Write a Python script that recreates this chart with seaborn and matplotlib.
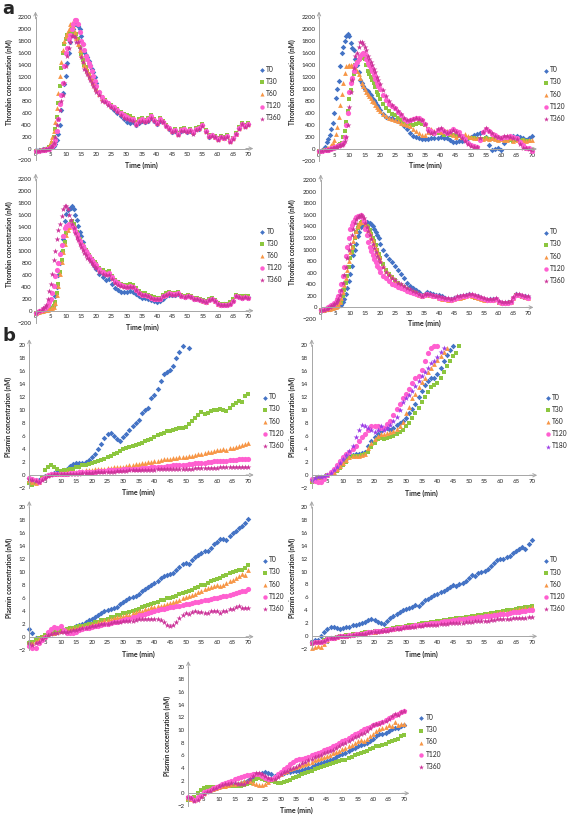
import numpy as np
import matplotlib
matplotlib.use("Agg")
import matplotlib.pyplot as plt
import seaborn as sns

sns.set_theme(style="white")
plt.rcParams["font.family"] = ["Lato", "DejaVu Sans"]

nan = np.nan

# ---------------- sample times ----------------
# thrombin: 0,1,2 then every 0.5 min up to 20, then every minute to 70
TH_TIME = [0, 1, 2] + [2.5 + 0.5 * i for i in range(36)] + list(range(21, 71))

# ---------------- thrombin (nM) ----------------
A1_T0 = [-30,-25,-20,-15,-10,-5,0,10,20,30,50,80,150,250,400,650,930,1080,1220,1440,1600,1780,1900,2000,2080,2120,2050,2000,1880,1750,1620,1570,1530,1470,1400,1330,1280,1200,1100,
         950,850,790,740,700,650,600,540,490,440, 430,450,400,430,470,440,470,520,470,420, 460,440,370,330,280,300,240,300,310,280, 300,260,320,330,390,290,200,220,200,160, 200,170,210,120,170,250,340,420,370,420]
A1_T30 = [-40,-35,-30,-25,-20,-10,0,20,50,100,200,320,530,760,1050,1350,1600,1750,1830,1900,1920,1960,2000,1950,1900,1920,1830,1700,1580,1480,1400,1370,1300,1250,1200,1150,1100,1050,1000,
          930,860,810,770,730,700,660,610,580,560, 540,520,450,500,510,480,510,560,500,440, 520,470,400,350,300,320,260,330,340,300, 320,280,340,360,410,310,220,230,210,170, 210,190,220,130,180,260,360,430,390,430]
A1_T60 = [-30,-25,-20,-15,-10,0,20,50,120,200,300,450,680,930,1220,1450,1650,1800,1880,1930,2000,2080,2100,2050,1950,1850,1750,1650,1560,1470,1400,1350,1300,1250,1200,1150,1100,1050,1000,
          920,850,800,760,720,690,650,600,570,550, 530,510,440,490,500,470,500,550,490,430, 510,460,390,340,290,310,250,320,330,290, 310,270,330,350,400,300,210,220,200,160, 200,180,210,120,170,250,350,420,380,420]
A1_T120 = [-40,-35,-30,-25,-20,-15,-10,0,20,40,80,150,300,500,750,900,1100,1380,1600,1680,1830,1900,2000,2080,2150,2150,2080,1950,1800,1750,1650,1550,1500,1430,1380,1300,1220,1130,1050,
           950,860,800,760,720,690,650,600,560,530, 500,490,420,470,490,460,490,540,480,430, 490,450,380,340,290,310,250,310,320,290, 310,270,330,340,400,300,210,220,200,160, 200,180,210,120,170,250,340,420,380,420]
A1_T360 = [-40,-35,-30,-25,-20,-15,-10,0,20,50,100,200,400,500,650,800,900,1100,1380,1550,1680,1780,1880,1880,1870,1780,1780,1680,1530,1450,1330,1300,1250,1200,1150,1100,1050,1000,950,
           900,800,780,730,700,660,620,560,520,500, 480,470,390,440,470,440,470,520,470,420, 460,440,370,330,270,290,230,290,300,270, 290,250,310,320,380,280,190,210,190,150, 190,170,200,110,160,240,330,410,360,400]

A2_T0 = [-40,-20,30,110,170,234,330,430,610,860,1000,1140,1380,1600,1700,1800,1880,1920,1890,1770,1680,1650,1500,1400,1280,1150,1100,1050,1010,990,970,940,910,860,820,780,740,700,650,
         590,540,520,510,490,470,430,390,330,260, 220,200,180,170,170,170,180,180,190,200, 190,180,150,110,120,130,130,150,180,200, 240,250,260,280,200,60,-20,0,20,-10, 100,180,200,220,220,200,180,150,180,210]
A2_T30 = [-40,-30,-20,-15,-10,-5,0,10,20,30,40,60,80,100,200,300,450,630,830,980,1130,1250,1400,1450,1480,1500,1520,1540,1500,1400,1300,1250,1200,1150,1100,1030,960,900,840,
          760,690,640,590,560,520,480,450,420,410, 400,410,430,420,400,330,270,250,260,260, 240,250,240,230,220,210,190,200,190,180, 180,170,170,160,180,160,170,160,150,160, 170,170,150,140,150,130,150,140,130,-10]
A2_T60 = [-40,-20,0,10,20,40,60,100,150,250,370,540,730,920,1100,1270,1380,1390,1400,1400,1390,1380,1350,1300,1250,1180,1100,1050,1000,960,920,880,850,810,780,740,700,670,640,
          590,550,520,500,480,460,440,420,400,380, 340,300,260,230,240,280,330,300,310,280, 320,300,270,230,200,230,200,250,220,200, 190,180,180,170,180,170,190,170,150,160, 150,150,180,140,150,140,150,140,150,150]
A2_T120 = [-40,-30,-20,-15,-10,0,10,20,30,40,50,60,70,80,100,200,400,600,950,1100,1180,1300,1400,1450,1500,1560,1580,1600,1580,1500,1430,1400,1350,1300,1230,1170,1100,1050,1000,
           900,820,760,720,680,620,560,500,470,480, 500,520,510,480,420,340,300,270,320,340, 300,260,300,330,300,280,220,170,100,60, 50,40,150,280,330,300,250,230,200,190, 200,200,220,200,180,120,60,20,10,-30]
A2_T360 = [-40,-30,-20,-15,-10,-5,0,10,20,30,40,50,60,70,80,130,200,400,700,950,1150,1350,1550,1600,1700,1780,1780,1760,1700,1650,1550,1500,1450,1400,1340,1280,1200,1150,1080,
           980,880,800,740,690,640,580,520,480,480, 500,510,500,480,420,300,270,280,330,350, 300,260,290,310,280,240,180,130,80,50, 30,40,180,290,350,300,270,220,200,190, 210,210,200,180,160,80,20,10,0,-20]

A3_T0 = [-30,-20,-10,0,10,20,30,40,50,70,100,250,400,600,800,1000,1200,1500,1620,1680,1700,1720,1750,1700,1600,1520,1420,1320,1250,1150,1050,1000,950,900,860,820,780,740,700,
         620,560,520,530,450,380,340,320,310,320, 330,310,280,240,220,210,200,180,160,150, 160,200,240,270,260,270,280,240,230,250, 230,200,190,180,160,140,190,190,160,120, 100,110,110,120,170,250,230,220,240,230]
A3_T30 = [-30,-20,-10,0,10,15,20,25,30,50,80,150,300,450,650,850,1000,1150,1300,1380,1420,1480,1500,1450,1380,1320,1260,1200,1150,1100,1060,1020,980,940,900,870,840,810,780,
          720,680,650,660,580,520,480,450,430,430, 440,430,380,330,300,290,270,250,230,210, 220,260,290,310,300,300,310,270,250,270, 250,220,210,200,180,160,200,210,180,130, 110,120,120,140,190,260,250,240,250,240]
A3_T60 = [-30,-20,-10,0,10,15,20,25,30,40,70,130,270,420,620,820,980,1120,1270,1350,1400,1440,1450,1420,1360,1300,1240,1180,1130,1080,1040,1000,960,920,880,850,820,790,760,
          700,660,630,640,560,500,460,430,410,410, 420,410,360,310,280,270,250,230,210,200, 210,250,280,300,290,290,300,260,240,260, 240,210,200,190,170,150,190,200,170,120, 100,110,110,130,180,250,240,230,240,230]
A3_T120 = [-30,-10,10,30,50,70,100,150,200,300,420,580,680,800,950,1100,1250,1380,1420,1430,1450,1440,1420,1380,1330,1280,1220,1170,1120,1080,1040,1000,960,920,880,850,820,790,760,
           700,650,620,630,560,500,460,430,410,400, 410,400,350,300,270,260,240,220,200,190, 200,240,270,290,280,280,290,250,230,250, 230,200,190,180,160,140,180,190,160,110, 90,100,100,120,170,240,230,220,230,220]
A3_T360 = [-30,0,20,40,60,100,200,330,450,620,850,1000,1200,1350,1450,1580,1700,1750,1760,1700,1600,1520,1450,1380,1300,1240,1180,1120,1060,1010,970,930,890,860,830,800,770,740,710,
           650,610,590,600,530,470,430,410,390,400, 400,390,340,300,270,260,240,220,200,190, 200,240,270,280,270,270,280,250,230,250, 230,200,190,180,160,140,180,190,160,110, 90,100,100,120,170,240,230,220,230,220]

A4_T0 = [-50,-40,-30,-25,-20,-15,-10,0,10,20,30,40,50,100,150,230,330,450,580,720,900,1000,1100,1230,1300,1380,1430,1450,1460,1470,1460,1450,1440,1400,1350,1300,1250,1200,1100,
         1000,900,830,780,720,650,580,500,420,370, 330,300,260,220,240,260,250,240,220,210, 190,160,150,140,160,180,190,200,210,230, 220,200,190,170,150,130,140,140,150,100, 80,80,90,100,170,230,220,200,190,180]
A4_T30 = [-50,-40,-30,-25,-20,-15,-10,0,10,20,50,70,100,200,300,420,550,700,850,950,1050,1200,1300,1370,1420,1450,1480,1500,1450,1400,1380,1330,1270,1200,1150,1080,1000,930,860,
          750,650,580,530,480,430,390,350,320,290, 270,250,220,190,210,220,200,190,180,160, 140,130,120,110,130,150,160,170,180,200, 190,170,160,140,120,110,120,120,130,80, 70,70,80,90,150,210,200,180,170,160]
A4_T60 = [-50,-40,-30,-25,-20,-15,-10,0,10,30,60,100,170,260,380,500,640,800,950,1050,1150,1230,1320,1400,1450,1480,1500,1480,1430,1380,1340,1280,1220,1160,1100,1030,960,890,820,
          720,630,570,520,470,420,380,340,310,290, 270,250,220,200,220,230,210,200,190,170, 150,140,130,120,140,160,170,180,190,210, 200,180,170,150,130,120,130,130,140,90, 80,80,90,100,160,220,210,190,180,170]
A4_T120 = [-50,-30,-10,0,20,35,50,75,100,150,200,280,400,550,700,880,1050,1200,1350,1420,1480,1520,1560,1570,1580,1590,1560,1500,1350,1250,1130,1050,980,900,840,780,720,680,620,
           550,500,450,410,380,350,330,310,290,270, 250,230,210,190,220,230,210,200,190,170, 160,150,140,130,150,170,180,190,200,220, 210,190,180,160,140,120,130,130,140,90, 70,70,80,90,160,220,210,190,180,170]
A4_T360 = [-50,-40,-20,-10,0,20,40,60,80,110,150,220,300,420,560,700,850,1000,1100,1250,1350,1450,1520,1560,1580,1600,1580,1550,1450,1380,1320,1250,1180,1100,1030,960,890,830,780,
           700,620,560,510,470,430,400,370,340,310, 290,260,230,200,230,240,230,210,200,190, 180,170,160,150,170,190,200,210,220,240, 230,210,200,180,160,140,150,150,160,110, 90,90,100,110,180,240,230,210,200,190]

# ---------------- plasmin (nM), one value per minute from t = 0 ----------------
B1_T0 = [-0.5,-0.8,-1.0,-0.8,-0.5,-0.2,0.0,0.2,0.3,0.4, 0.5,0.8,1.0,1.4,1.7,1.8,1.9,1.9,2.0,2.3,
         2.7,3.2,4.0,4.8,5.7,6.3,6.4,6.0,5.5,5.3, 5.8,6.3,6.9,7.6,8.0,8.5,9.6,10.0,10.3,11.8,
         12.3,13.2,14.5,15.5,15.8,16.2,16.8,18.0,19.0,19.8, nan,19.5]
B1_T30 = [-1.3,-1.5,-1.2,-1.0,-0.3,0.8,1.2,1.5,1.3,0.9, 0.6,0.7,0.8,0.9,1.0,1.2,1.3,1.5,1.6,1.7,
          1.9,2.0,2.2,2.3,2.5,2.7,2.9,3.2,3.4,3.7, 4.0,4.2,4.3,4.5,4.6,4.8,5.0,5.2,5.4,5.6,
          5.9,6.1,6.3,6.5,6.7,6.8,7.0,7.1,7.2,7.3, 7.4,7.8,8.3,8.8,9.3,9.7,9.4,9.5,9.8,10.0,
          10.0,10.1,10.0,9.8,10.3,10.8,11.1,11.4,11.3,12.2,12.5]
B1_T60 = [-0.8,-1.0,-1.2,-1.0,-0.5,-0.2,0.0,0.1,0.2,0.2, 0.3,0.3,0.4,0.4,0.5,0.5,0.6,0.6,0.7,0.8,
          0.8,0.9,0.9,1.0,1.0,1.1,1.1,1.2,1.2,1.3, 1.3,1.4,1.5,1.6,1.7,1.7,1.8,1.9,2.0,2.0,
          2.1,2.2,2.3,2.4,2.4,2.5,2.6,2.6,2.7,2.7, 2.8,2.9,3.0,3.1,3.2,3.3,3.4,3.5,3.6,3.7,
          3.8,3.9,4.0,3.9,4.1,4.2,4.3,4.4,4.6,4.8,4.9]
B1_T120 = [-0.5,-0.6,-0.8,-1.0,-0.6,-0.3,0.0,0.1,0.2,0.2, 0.2,0.2,0.2,0.3,0.3,0.3,0.4,0.4,0.4,0.5,
           0.5,0.5,0.6,0.6,0.6,0.7,0.7,0.7,0.8,0.8, 0.9,0.9,0.9,1.0,1.0,1.0,1.1,1.1,1.1,1.2,
           1.2,1.3,1.3,1.3,1.4,1.4,1.5,1.5,1.5,1.6, 1.6,1.7,1.7,1.8,1.8,1.9,1.9,2.0,2.0,2.1,
           2.1,2.1,2.2,2.2,2.3,2.3,2.3,2.4,2.4,2.5,2.5]
B1_T360 = [-0.6,-0.7,-0.9,-1.0,-0.7,-0.4,-0.1,0.0,0.1,0.1, 0.1,0.1,0.1,0.2,0.2,0.2,0.2,0.3,0.3,0.3,
           0.3,0.4,0.4,0.4,0.5,0.5,0.5,0.5,0.6,0.6, 0.6,0.6,0.7,0.7,0.7,0.7,0.8,0.8,0.8,0.8,
           0.8,0.9,0.9,0.9,0.9,0.9,1.0,1.0,1.0,1.0, 1.0,1.0,1.0,1.1,1.1,1.1,1.1,1.1,1.1,1.1,
           1.1,1.2,1.2,1.2,1.2,1.2,1.2,1.3,1.3,1.2,1.2]

B2_T0 = [-0.8,-0.5,-0.2,-0.3,-0.2,0.0,0.3,0.6,1.0,1.5, 2.0,2.5,2.9,3.1,3.2,3.3,3.4,3.6,4.5,5.3,
         5.8,6.3,6.8,7.2,7.2,7.0,7.3,7.7,8.0,8.3, 8.8,9.5,10.2,11.0,12.0,13.0,13.8,14.5,15.0,15.0,
         15.5,16.5,17.5,18.5,19.3,19.8]
B2_T30 = [-1.0,-0.6,-0.4,-0.3,-0.2,0.0,0.2,0.4,0.7,1.1, 1.6,2.1,2.6,2.9,3.0,3.0,3.1,3.2,3.6,4.3,
          5.0,5.6,5.7,5.6,5.7,5.8,6.0,6.3,6.6,7.0, 7.5,8.0,8.8,9.5,10.3,11.2,12.0,12.8,13.5,13.9,
          14.1,15.0,15.8,16.8,17.6,18.3,18.7,19.8]
B2_T60 = [-0.8,-0.5,-0.3,-0.3,-0.2,0.0,0.3,0.5,0.9,1.4, 1.9,2.4,2.8,3.0,3.0,3.0,3.1,3.3,4.2,4.9,
          5.6,6.1,6.3,6.4,6.5,6.6,6.8,7.1,7.5,8.2, 9.5,10.5,11.8,12.5,13.5,14.3,15.0,15.8,16.5,17.1,
          17.7,18.3,18.9,19.6]
B2_T120 = [-0.6,-0.9,-1.1,-1.0,-0.5,0.0,0.5,1.0,1.6,2.2, 2.8,3.2,3.6,4.0,4.5,5.2,5.8,6.3,7.0,7.5,
           7.6,7.6,7.2,7.2,7.8,8.4,9.3,10.2,11.0,11.8, 12.5,13.3,14.2,15.0,15.2,16.2,17.5,18.8,19.6,19.8,
           19.8]
B2_T180 = [-0.8,-0.4,-0.2,-0.3,-0.1,0.1,0.4,0.8,1.3,1.9, 2.5,3.1,3.7,4.5,5.8,7.0,7.7,7.5,7.3,7.0,
           6.6,7.0,7.5,6.9,7.2,7.7,8.3,9.0,10.0,11.2, 11.8,12.3,13.0,13.7,14.5,15.2,15.8,16.5,17.2,17.5,
           18.2,19.0,19.6]

B3_T0 = [1.2,0.6,-0.2,-0.3,-0.2,0.0,0.3,0.5,0.6,0.8, 1.0,1.1,1.2,1.3,1.4,1.6,1.8,2.0,2.3,2.5,
         2.7,3.0,3.3,3.6,3.9,4.1,4.3,4.4,4.6,5.0, 5.4,5.7,5.9,6.1,6.2,6.5,7.0,7.3,7.6,7.9,
         8.2,8.6,9.0,9.3,9.5,9.6,9.8,10.3,10.8,11.2, 11.4,11.2,11.8,12.3,12.6,12.9,13.2,13.2,13.6,14.2,
         14.6,15.0,15.0,14.9,15.5,15.9,16.3,16.8,17.0,17.5,18.1]
B3_T30 = [-1.0,-0.8,-0.5,-0.2,0.0,0.2,0.4,0.6,0.8,0.9, 1.0,1.1,1.2,1.3,1.4,1.5,1.6,1.7,1.8,1.9,
          2.0,2.2,2.3,2.5,2.6,2.8,3.0,3.1,3.3,3.4, 3.6,3.7,3.8,3.9,4.1,4.3,4.5,4.7,4.9,5.0,
          5.2,5.4,5.6,5.7,5.9,6.0,6.1,6.3,6.5,6.7, 6.9,7.0,7.2,7.5,7.7,7.9,8.0,8.2,8.5,8.7,
          8.9,9.1,9.3,9.5,9.8,10.0,10.1,10.3,10.3,10.5,11.0]
B3_T60 = [-1.2,-1.0,-0.7,-0.4,-0.1,0.1,0.3,0.5,0.6,0.8, 0.9,1.0,1.1,1.2,1.3,1.4,1.5,1.6,1.7,1.8,
          1.9,2.0,2.2,2.3,2.5,2.6,2.8,2.9,3.0,3.1, 3.2,3.3,3.4,3.6,3.8,3.9,4.0,4.2,4.3,4.5,
          4.6,4.7,4.8,4.9,5.0,5.2,5.4,5.5,5.7,5.9, 6.1,6.2,6.4,6.6,6.9,7.1,7.3,7.5,7.6,7.8,
          7.9,7.8,8.0,8.3,8.6,8.8,9.1,9.4,9.6,9.5,10.2]
B3_T120 = [-1.5,-1.8,-1.7,-1.0,-0.5,0.0,0.7,1.2,1.5,1.3, 1.7,1.0,0.6,0.5,0.6,0.8,1.0,1.2,1.3,1.4,
           1.5,1.6,1.7,1.8,1.9,2.0,2.1,2.2,2.3,2.4, 2.5,2.7,2.8,3.0,3.1,3.3,3.4,3.5,3.7,3.8,
           4.0,4.1,4.2,4.3,4.4,4.5,4.6,4.7,4.8,4.9, 5.0,5.1,5.2,5.3,5.4,5.5,5.6,5.7,5.8,5.9,
           6.0,6.1,6.2,6.3,6.4,6.5,6.7,6.9,7.0,7.1,7.3]
B3_T360 = [-1.0,-1.2,-1.0,-0.8,-0.3,0.0,0.2,0.4,0.5,0.6, 0.7,0.8,0.8,0.9,1.0,1.1,1.2,1.3,1.4,1.5,
           1.6,1.7,1.8,1.9,2.0,2.0,2.1,2.2,2.3,2.3, 2.4,2.4,2.4,2.4,2.5,2.7,2.8,2.7,2.7,2.8,
           2.8,2.7,2.6,2.2,1.8,1.7,1.8,2.2,2.9,3.3, 3.6,3.5,3.8,3.9,3.8,3.8,3.7,3.6,3.9,3.9,
           4.0,3.6,3.9,4.0,4.2,4.3,4.6,4.8,4.4,4.4,4.4]

B4_T0 = [-0.8,-0.6,-0.5,0.0,0.7,1.2,1.5,1.5,1.3,1.2, 1.3,1.4,1.5,1.7,1.8,1.9,2.0,2.2,2.5,2.6,
         2.5,2.2,2.0,1.9,2.3,2.8,3.2,3.5,3.8,4.0, 4.2,4.3,4.6,4.8,4.7,5.2,5.6,5.8,6.1,6.4,
         6.5,6.8,7.0,7.3,7.6,7.9,7.7,8.1,8.3,8.6, 9.0,9.5,9.3,9.8,10.0,10.1,10.4,10.8,11.3,11.8,
         11.9,12.0,12.2,12.4,12.8,13.2,13.4,13.8,13.5,14.3,14.9]
B4_T30 = [-1.2,-1.0,-0.9,-0.8,-0.6,-0.4,-0.3,-0.2,-0.1,0.0, 0.1,0.2,0.2,0.3,0.4,0.4,0.5,0.6,0.6,0.7,
          0.8,0.9,0.9,1.0,1.1,1.2,1.3,1.4,1.5,1.5, 1.6,1.7,1.7,1.8,1.9,2.0,2.0,2.1,2.2,2.2,
          2.3,2.4,2.5,2.5,2.6,2.7,2.8,2.8,2.9,3.0, 3.0,3.1,3.2,3.3,3.3,3.4,3.5,3.6,3.6,3.7,
          3.8,3.9,4.0,4.0,4.1,4.2,4.3,4.4,4.5,4.6,4.7]
B4_T60 = [-1.8,-1.6,-1.5,-1.7,-1.2,-0.5,-0.3,-0.2,-0.1,0.0, 0.1,0.1,0.2,0.3,0.3,0.4,0.5,0.5,0.6,0.7,
          0.7,0.8,0.9,1.0,1.0,1.1,1.2,1.3,1.4,1.4, 1.5,1.6,1.6,1.7,1.8,1.9,1.9,2.0,2.1,2.1,
          2.2,2.3,2.4,2.4,2.5,2.6,2.7,2.7,2.8,2.9, 2.9,3.0,3.1,3.2,3.2,3.3,3.4,3.5,3.5,3.6,
          3.7,3.8,3.8,3.9,4.0,4.1,4.2,4.2,4.3,4.4,4.5]
B4_T120 = [-1.0,-0.9,-0.8,-0.9,-0.7,-0.4,-0.3,-0.2,-0.1,0.0, 0.1,0.1,0.2,0.2,0.3,0.4,0.4,0.5,0.6,0.7,
           0.8,0.8,0.9,1.0,1.0,1.1,1.2,1.3,1.3,1.4, 1.5,1.5,1.6,1.7,1.7,1.8,1.9,1.9,2.0,2.1,
           2.1,2.2,2.3,2.3,2.4,2.5,2.5,2.6,2.7,2.7, 2.8,2.8,2.9,3.0,3.0,3.1,3.1,3.2,3.3,3.3,
           3.4,3.5,3.5,3.6,3.7,3.7,3.8,3.9,3.9,4.0,4.1]
B4_T360 = [-1.0,-0.9,-0.8,-0.9,-0.7,-0.4,-0.3,-0.2,-0.1,0.0, 0.0,0.1,0.1,0.2,0.2,0.3,0.4,0.4,0.5,0.6,
           0.7,0.7,0.8,0.9,0.9,1.0,1.1,1.1,1.2,1.3, 1.4,1.4,1.5,1.5,1.6,1.6,1.7,1.7,1.7,1.8,
           1.8,1.9,1.9,1.9,2.0,2.0,2.0,2.1,2.1,2.2, 2.2,2.2,2.3,2.3,2.4,2.4,2.4,2.5,2.5,2.6,
           2.6,2.6,2.7,2.7,2.8,2.8,2.8,2.9,2.9,3.0,3.0]

B5_T0 = [-0.8,-0.8,-1.0,-0.8,-0.3,0.0,0.3,0.5,0.7,0.9, 1.1,1.2,1.3,1.4,1.5,1.5,1.5,1.6,1.8,2.0,
         2.3,2.6,2.9,3.1,3.2,3.3,3.2,3.0,2.8,2.9, 3.0,3.2,3.3,3.4,3.5,3.6,3.6,3.7,3.8,4.0,
         4.2,4.4,4.6,4.8,5.0,5.1,5.3,5.5,5.7,6.0, 6.2,6.4,6.7,7.0,7.2,7.4,7.6,7.8,8.0,8.3,
         8.6,9.0,9.3,9.4,9.6,9.9,10.1,10.3,10.3,10.6,10.8]
B5_T30 = [-1.0,-0.8,-0.5,0.0,0.5,0.8,1.0,1.0,1.0,0.9, 0.9,1.0,1.0,1.1,1.1,1.1,1.1,1.2,1.3,1.5,
          1.6,1.9,2.2,2.4,2.3,2.1,2.0,1.9,1.8,1.7, 1.7,1.8,1.9,2.1,2.4,2.6,2.8,3.0,3.2,3.4,
          3.6,3.8,4.0,4.2,4.3,4.5,4.6,4.8,5.0,5.1, 5.3,5.2,5.6,5.8,6.0,6.2,6.4,6.5,6.7,7.0,
          7.2,7.4,7.5,7.7,7.8,8.1,8.2,8.4,8.6,9.0,9.2]
B5_T60 = [-0.8,-0.9,-1.0,-0.7,-0.3,0.0,0.3,0.5,0.7,0.9, 1.0,1.1,1.2,1.3,1.4,1.5,1.6,1.8,2.0,2.0,
          1.9,1.6,1.4,1.3,1.3,1.4,1.8,2.2,2.6,2.9, 3.1,3.3,3.5,3.8,4.0,4.1,4.3,4.5,4.7,4.8,
          5.0,5.2,5.4,5.6,5.8,5.9,6.1,6.3,6.5,6.7, 7.0,7.2,7.4,7.7,8.0,8.3,8.5,8.3,8.6,9.0,
          9.4,9.8,10.2,10.3,10.5,10.8,10.6,11.2,10.8,11.0,10.9]
B5_T120 = [-0.6,-0.8,-1.0,-0.6,-0.2,0.2,0.4,0.6,0.8,1.0, 1.2,1.4,1.6,1.8,2.0,2.2,2.4,2.6,2.8,2.9,
           2.9,3.0,3.0,3.0,2.8,2.5,2.3,2.3,2.6,3.0, 3.4,3.8,4.2,4.6,5.0,5.2,5.4,5.5,5.6,5.8,
           6.0,6.2,6.4,6.6,6.8,7.0,7.2,7.4,7.6,7.9, 8.2,8.5,8.7,9.0,9.3,9.6,9.9,10.1,10.3,10.5,
           10.8,11.0,11.1,11.3,11.6,11.9,12.1,12.3,12.5,12.8,13.0]
B5_T360 = [-0.5,-0.7,-1.2,-1.0,-0.5,-0.1,0.2,0.4,0.7,0.9, 1.1,1.3,1.4,1.5,1.6,1.6,1.5,1.4,1.5,1.8,
           2.3,2.8,3.2,3.2,3.1,2.8,2.5,2.3,2.3,2.6, 3.0,3.3,3.5,3.8,4.0,4.2,4.5,4.8,5.0,5.3,
           5.5,5.7,5.9,6.1,6.3,6.5,6.7,6.9,7.2,7.5, 7.8,8.0,8.3,8.6,8.9,9.1,9.3,9.6,9.9,10.3,
           10.8,11.0,11.0,11.2,11.5,11.8,12.2,12.5,12.3,12.8,13.0]

LABELS = ["T0", "T30", "T60", "T120", "T360"]
LABELS_B2 = ["T0", "T30", "T60", "T120", "T180"]
TH_YTICKS = list(range(-200, 2201, 200))
PL_YTICKS = list(range(-2, 21, 2))
X_TICKS = list(range(0, 71, 5))

# ---------------- styling ----------------
STYLE = {
    "T0": ("#4473C5", "D", 8),
    "T30": ("#8CC63F", "s", 12),
    "T60": ("#F79646", "^", 12),
    "T120": ("#FF5FD0", "o", 14),
    "T360": ("#CC3399", "*", 19),
    "T180": ("#9B3DE6", "*", 19),
}
AX_COL = "#A6A6A6"
TXT = "#262626"
W, H = 567, 818

fig = plt.figure(figsize=(W / 100, H / 100), dpi=100)
fig.patch.set_facecolor("white")


def make_axes(x0, x70, ytop, ybot):
    return fig.add_axes([x0 / W, 1 - ybot / H, (x70 - x0) / W, (ybot - ytop) / H])


def draw_panel(px, series, labels, times, ylim, yticks, ylabel, ylab_xy, leg_xy):
    ax = make_axes(*px)
    for vals, lab in zip(series, labels):
        col, mk, sz = STYLE[lab]
        t = times if times is not None else np.arange(len(vals))
        assert len(t) == len(vals), (lab, len(t), len(vals))
        sns.scatterplot(x=np.asarray(t, float), y=np.asarray(vals, float), ax=ax,
                        color=col, marker=mk, s=sz, linewidth=0, label=lab,
                        clip_on=False)
    ax.set_xlim(0, 70)
    ax.set_ylim(*ylim)
    ax.set_xticks(X_TICKS)
    ax.set_yticks(yticks)
    for s in ("top", "right"):
        ax.spines[s].set_visible(False)
    ax.spines["bottom"].set_position(("data", 0))
    for s in ("left", "bottom"):
        ax.spines[s].set_color(AX_COL)
        ax.spines[s].set_linewidth(0.7)
    ax.tick_params(axis="both", labelsize=4.4, length=1.5, width=0.5,
                   color=AX_COL, pad=1.2, labelcolor=TXT, direction="out")
    ax.set_xlabel("Time (min)", fontsize=5, fontweight="bold", color=TXT)
    ax.xaxis.set_label_coords(0.5, -0.008)
    ax.set_ylabel(ylabel, fontsize=4.7, fontweight="bold", color=TXT)
    ax.yaxis.set_label_coords(*ylab_xy)
    arrow = dict(arrowstyle="->", color=AX_COL, lw=0.7, shrinkA=0, shrinkB=0,
                 mutation_scale=6)
    ax.annotate("", xy=(0, 1.04), xytext=(0, 0.99), xycoords="axes fraction",
                arrowprops=arrow, annotation_clip=False)
    ax.annotate("", xy=(1.025, 0), xytext=(0.99, 0),
                xycoords=ax.get_yaxis_transform(), arrowprops=arrow,
                annotation_clip=False)
    leg = ax.legend(loc="center left", bbox_to_anchor=leg_xy, frameon=False,
                    fontsize=4.9, handlelength=0.7, handletextpad=0.25,
                    labelspacing=0.75, borderpad=0, borderaxespad=0,
                    markerscale=0.85)
    for txt in leg.get_texts():
        txt.set_color(TXT)
    return ax


TH_LAB = "Thrombin concentration (nM)"
PL_LAB = "Plasmin concentration (nM)"
th = dict(times=TH_TIME, ylim=(-200, 2200), yticks=TH_YTICKS, ylabel=TH_LAB)
pl = dict(times=None, ylim=(-2, 20), yticks=PL_YTICKS, ylabel=PL_LAB)

draw_panel((35.5, 248, 17.3, 160.5), [A1_T0, A1_T30, A1_T60, A1_T120, A1_T360], LABELS,
           ylab_xy=(-0.108, 0.55), leg_xy=(1.055, 0.466), **th)
draw_panel((319, 531.7, 17.3, 161), [A2_T0, A2_T30, A2_T60, A2_T120, A2_T360], LABELS,
           ylab_xy=(-0.110, 0.55), leg_xy=(1.055, 0.466), **th)
draw_panel((35.7, 248.3, 179.3, 322.7), [A3_T0, A3_T30, A3_T60, A3_T120, A3_T360], LABELS,
           ylab_xy=(-0.108, 0.55), leg_xy=(1.055, 0.469), **th)
draw_panel((320.7, 528.3, 180, 319), [A4_T0, A4_T30, A4_T60, A4_T120, A4_T360], LABELS,
           ylab_xy=(-0.121, 0.55), leg_xy=(1.072, 0.453), **th)

draw_panel((29.3, 248.3, 345, 488), [B1_T0, B1_T30, B1_T60, B1_T120, B1_T360], LABELS,
           ylab_xy=(-0.078, 0.5), leg_xy=(1.066, 0.468), **pl)
draw_panel((311.7, 531.7, 345, 488.3), [B2_T0, B2_T30, B2_T60, B2_T120, B2_T180], LABELS_B2,
           ylab_xy=(-0.070, 0.5), leg_xy=(1.062, 0.465), **pl)
draw_panel((29.3, 248.3, 506.7, 649.7), [B3_T0, B3_T30, B3_T60, B3_T120, B3_T360], LABELS,
           ylab_xy=(-0.074, 0.5), leg_xy=(1.066, 0.459), **pl)
draw_panel((311.7, 531.7, 506.7, 649.3), [B4_T0, B4_T30, B4_T60, B4_T120, B4_T360], LABELS,
           ylab_xy=(-0.070, 0.5), leg_xy=(1.055, 0.457), **pl)
draw_panel((188.3, 404, 666.7, 806), [B5_T0, B5_T30, B5_T60, B5_T120, B5_T360], LABELS,
           ylab_xy=(-0.079, 0.5), leg_xy=(1.070, 0.46), **pl)

fig.text(2 / W, 1 - 9 / H, "a", fontsize=13, fontweight="bold", va="center", ha="left",
         family=["DejaVu Sans"])
fig.text(2 / W, 1 - 336 / H, "b", fontsize=13, fontweight="bold", va="center", ha="left",
         family=["DejaVu Sans"])

fig.savefig("out.png", dpi=100, facecolor="white")
